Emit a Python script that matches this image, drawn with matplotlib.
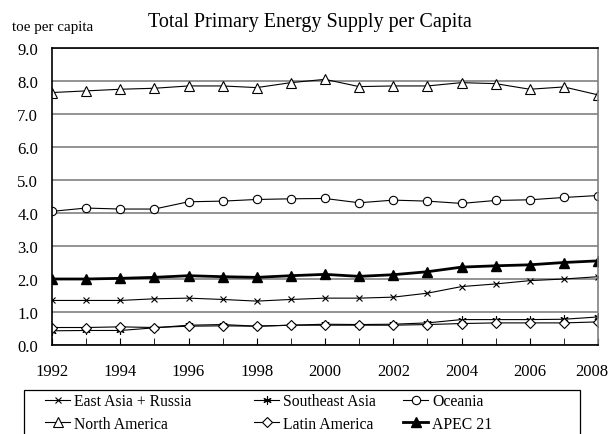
import matplotlib
matplotlib.use("Agg")
import matplotlib.pyplot as plt
from matplotlib.patches import Rectangle

plt.rcParams['font.family'] = ['Liberation Serif', 'DejaVu Serif']

years = list(range(1992, 2009))
east_asia = [1.35, 1.35, 1.35, 1.40, 1.42, 1.38, 1.33, 1.38, 1.42, 1.42, 1.45, 1.57, 1.77, 1.85, 1.95, 2.00, 2.07]
southeast_asia = [0.43, 0.44, 0.44, 0.52, 0.60, 0.62, 0.57, 0.60, 0.63, 0.62, 0.63, 0.67, 0.77, 0.77, 0.77, 0.78, 0.85]
oceania = [4.05, 4.15, 4.12, 4.12, 4.34, 4.36, 4.41, 4.43, 4.44, 4.31, 4.39, 4.36, 4.29, 4.38, 4.40, 4.47, 4.53]
north_america = [7.65, 7.70, 7.75, 7.78, 7.85, 7.85, 7.80, 7.95, 8.05, 7.83, 7.85, 7.85, 7.95, 7.92, 7.75, 7.82, 7.58]
latin_america = [0.53, 0.53, 0.55, 0.53, 0.57, 0.58, 0.57, 0.60, 0.60, 0.60, 0.60, 0.62, 0.65, 0.67, 0.67, 0.67, 0.70]
apec21 = [2.00, 2.00, 2.02, 2.05, 2.10, 2.07, 2.05, 2.10, 2.14, 2.08, 2.13, 2.22, 2.36, 2.40, 2.43, 2.50, 2.55]
y_ticks = [0, 1, 2, 3, 4, 5, 6, 7, 8, 9]
x_labels = list(range(1992, 2009, 2))

W, H = 608, 435
fig = plt.figure(figsize=(W / 100, H / 100), dpi=100)
ax = fig.add_axes([52 / W, 1 - 346 / H, (598 - 52) / W, (346 - 49) / H])

ms = 6
l_ea, = ax.plot(years, east_asia, color='black', lw=0.8, marker='x', ms=4, mew=0.8, label='East Asia + Russia')
l_se, = ax.plot(years, southeast_asia, color='black', lw=0.8, marker=(6, 2, 0), ms=ms, mew=0.8, label='Southeast Asia')
l_oc, = ax.plot(years, oceania, color='black', lw=0.8, marker='o', ms=ms, mfc='white', mec='black', mew=0.8, label='Oceania')
l_na, = ax.plot(years, north_america, color='black', lw=0.8, marker='^', ms=ms + 0.5, mfc='white', mec='black', mew=0.8, label='North America')
l_la, = ax.plot(years, latin_america, color='black', lw=0.8, marker='D', ms=5, mfc='white', mec='black', mew=0.8, label='Latin America')
l_ap, = ax.plot(years, apec21, color='black', lw=2.0, marker='^', ms=ms + 0.5, mfc='black', mec='black', label='APEC 21')

ax.set_xlim(1992, 2008)
ax.set_ylim(0, 9)
ax.set_yticks(y_ticks)
ax.set_yticklabels([f"{v:.1f}" for v in y_ticks], fontsize=12)
ax.set_xticks(x_labels)
ax.set_xticklabels([str(y) if y != 2008 else '' for y in x_labels], fontsize=12)
ax.annotate('2008', xy=(2008, 0), xycoords=('data', 'axes fraction'), xytext=(-4.5, -13),
            textcoords='offset points', ha='center', va='top', fontsize=12)
ax.set_xticks(years, minor=True)
ax.tick_params(axis='x', which='both', direction='in', length=5, pad=13, color='black')
ax.tick_params(axis='y', length=0, pad=10)
ax.grid(axis='y', color='#808080', lw=1.2)
ax.set_axisbelow(True)
for s in ['left', 'bottom', 'top']:
    ax.spines[s].set_color('black')
    ax.spines[s].set_linewidth(1.2)
ax.spines['right'].set_color('#808080')
ax.spines['right'].set_linewidth(1.2)

fig.text(310 / W, 1 - 23 / H, 'Total Primary Energy Supply per Capita', ha='center', va='center', fontsize=14.5)
fig.text(12 / W, 1 - 28 / H, 'toe per capita', ha='left', va='center', fontsize=10.8)

# legend frame
fig.patches.append(Rectangle((24 / W, 1 - 445 / H), (580 - 24) / W, (445 - 391) / H,
                             transform=fig.transFigure, fill=False, edgecolor='black', lw=0.9))
cols = [([l_ea, l_na], 45), ([l_se, l_la], 254), ([l_oc, l_ap], 403)]
for hs, x0 in cols:
    lg = fig.legend(handles=hs, labels=[h.get_label() for h in hs], loc='upper left',
                    bbox_to_anchor=(x0 / W, 1 - 394 / H), fontsize=11.3, frameon=False,
                    handlelength=1.6, handletextpad=0.25, labelspacing=0.42,
                    borderpad=0, borderaxespad=0)

fig.savefig('out.png', dpi=100)
